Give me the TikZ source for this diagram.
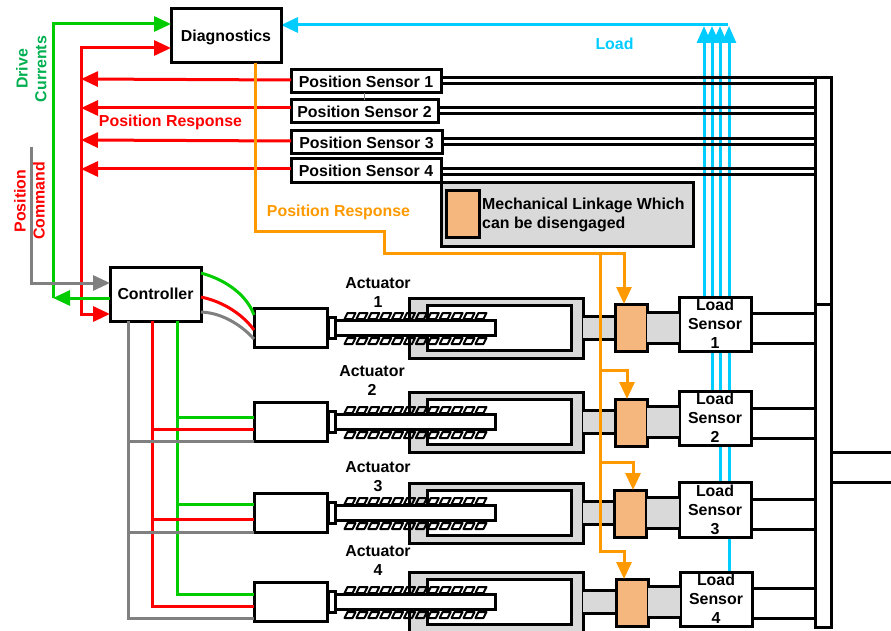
\documentclass[tikz,border=0pt]{standalone}
\usepackage{fontspec}
\setmainfont{Liberation Sans}
\usetikzlibrary{arrows.meta,backgrounds}
\definecolor{cgreen}{HTML}{00CC00}
\definecolor{tgreen}{HTML}{00B050}
\definecolor{cred}{HTML}{FF0000}
\definecolor{corange}{HTML}{FF9900}
\definecolor{ccyan}{HTML}{00CCFF}
\definecolor{cgray}{HTML}{808080}
\definecolor{pale}{HTML}{D9D9D9}
\definecolor{linkfill}{HTML}{F6B77F}
\tikzset{
  lab/.style={font=\fontsize{15.9}{19}\selectfont\bfseries, inner sep=0, align=center},
  box/.style={draw=black, line width=3, fill=white, inner sep=0, outer sep=0, lab},
  wire/.style={line width=3, line join=miter},
  blk/.style={draw=black, line width=3},
  tipped/.style={-{Triangle[length=17,width=15]}},
  gw/.style={wire, draw=cgreen},
  rw/.style={wire, draw=cred},
  yw/.style={wire, draw=corange},
  cw/.style={wire, draw=ccyan},
  kw/.style={wire, draw=cgray},
  linkbox/.style={draw=black, line width=3, fill=linkfill, inner sep=0, outer sep=0},
  coil/.style={draw=black, line width=2, line join=round},
}
\begin{document}
\begin{tikzpicture}[x=1pt,y=-1pt]
\useasboundingbox (0,0) rectangle (891,631);
\clip (0,0) rectangle (891,631);

% main boxes
\node[box, minimum width=110, minimum height=54, text depth=1pt] (diag) at (226,36) {Diagnostics};
\node[box, minimum width=91, minimum height=54] (ctrl) at (155.5,294) {Controller};
\node[box, minimum width=150, minimum height=23] (ps1) at (366,81.5) {Position Sensor 1};
\node[box, minimum width=147, minimum height=23] (ps2) at (364.5,111.5) {Position Sensor 2};
\node[box, minimum width=151, minimum height=23] (ps3) at (366.5,142.5) {Position Sensor 3};
\node[box, minimum width=150, minimum height=24] (ps4) at (366,171) {Position Sensor 4};
\draw[cgray, line width=0.8] (ps1.south -| 364,0) -- (ps2.north -| 364,0);

% load sensors
\node[box, minimum width=72, minimum height=54] (ls1) at (715,324) {};
\node[box, minimum width=72, minimum height=54] (ls2) at (715,418) {};
\node[box, minimum width=72, minimum height=55] (ls3) at (715,509.5) {};
\node[box, minimum width=72, minimum height=54] (ls4) at (716,599) {};
% load lines (behind boxes and black rails)
\coordinate (ltop) at (728,25);
\begin{scope}[on background layer]
\draw[cw, -{Triangle[length=17,width=14]}] (ls1.north -| 704,0) -- (704,26);
\draw[cw, -{Triangle[length=17,width=14]}] (ls2.north -| 712,0) -- (712,26);
\draw[cw, -{Triangle[length=17,width=14]}] (ls3.north -| 720,0) -- (720,26);
\draw[cw, -{Triangle[length=17,width=14]}] (ls4.north -| 729,0) -- (729,26);
\draw[cw, tipped] (ltop) -- (ltop -| diag.east);
\end{scope}

% bus
\node[box, minimum width=16, minimum height=226] (busa) at (823,191) {};
\node[box, minimum width=16, minimum height=323] (busb) at (823,465.5) {};
\foreach \s/\ya/\yb in {ps1/78/84, ps2/108/114, ps3/139/145, ps4/169/175}{
  \draw[blk] (\s.east |- 0,\ya) -- (busa.west |- 0,\ya);
  \draw[blk] (\s.east |- 0,\yb) -- (busa.west |- 0,\yb);
}
\coordinate (outa) at (891,452);
\coordinate (outb) at (891,482);
\draw[blk] (busb.east |- outa) -- (outa);
\draw[blk] (busb.east |- outb) -- (outb);

% legend
\node[draw=black, line width=3, fill=pale, minimum width=252, minimum height=63, inner sep=0, outer sep=0] (legend) at (567,214.5) {};
\node[linkbox, minimum width=33, minimum height=46] (legkey) at (462.5,214) {};
\node[lab, anchor=west, align=left] (legtxt) at (482,214.5) {Mechanical Linkage Which\\can be disengaged};

% actuators
\foreach \n/\b/\lkx/\lktop in {1/308/631/304, 2/402/631/399, 3/493/630.5/490, 4/582/632/579}{
  \draw[blk, fill=pale] (409,\b-10) rectangle (583,\b+50);
  \draw[blk, fill=white] (427,\b-3) rectangle (571,\b+42);
  % band to linkage
  \fill[pale] (583,\b+8) rectangle (615,\b+31);
  \draw[blk] (583,\b+8) -- (615,\b+8) (583,\b+31) -- (615,\b+31);
  % rod
  \draw[blk, fill=white] (335,\b+12) -- (495,\b+12) -- (495,\b+27.5) -- (335,\b+27.5);
  % coils
  \foreach \i in {0,...,11}{
    \pgfmathsetmacro{\cx}{344.5+\i*11.9}
    \draw[coil] (\cx,\b+11) -- (\cx+8,\b+11) -- (\cx+11,\b+5) -- (\cx+3,\b+5) -- cycle;
    \draw[coil] (\cx,\b+36) -- (\cx+8,\b+36) -- (\cx+11,\b+30) -- (\cx+3,\b+30) -- cycle;
  }
  \node[box, minimum width=73, minimum height=39] (mot\n) at (290.5,\b+19.5) {};
  \draw[blk, fill=white] (328,\b+9) rectangle (335,\b+30);
  \node[linkbox, minimum width=32, minimum height=47] (lk\n) at (\lkx,\lktop+23.5) {};
  % band linkage to sensor
  \fill[pale] (lk\n.east |- 0,\b+4) rectangle (ls\n.west |- 0,\b+35);
  \draw[blk] (lk\n.east |- 0,\b+4) -- (ls\n.west |- 0,\b+4) (lk\n.east |- 0,\b+35) -- (ls\n.west |- 0,\b+35);
}
% sensor outputs
\foreach \s/\ya/\yb in {ls1/313/343, ls2/408/438, ls3/499/529, ls4/588/618}{
  \draw[blk] (\s.east |- 0,\ya) -- (busb.west |- 0,\ya);
  \draw[blk] (\s.east |- 0,\yb) -- (busb.west |- 0,\yb);
}
% sensor labels
\foreach \s/\n in {ls1/1, ls2/2, ls3/3, ls4/4}{
  \node[lab] at (\s) {Load\\Sensor\\\n};
}
% actuator labels
\node[lab] (act1) at (378,292.5) {Actuator\\1};
\node[lab] (act2) at (372,380.5) {Actuator\\2};
\node[lab] (act3) at (378,476.5) {Actuator\\3};
\node[lab] (act4) at (378,560.5) {Actuator\\4};

% position response (red)
\coordinate (rsp) at (81,48);
\coordinate (rbot) at (81,314);
\draw[rw, tipped] (rbot) -- (rsp) -- (rsp -| diag.west);
\draw[rw, tipped] (rsp) -- (rbot) -- (rbot -| ctrl.west);
\foreach \s/\ya/\yb in {ps1/80/79, ps2/108/108, ps3/141/140, ps4/169/169}{
  \draw[rw, tipped] (\s.west |- 0,\ya) -- (rsp |- 0,\yb);
}
% drive currents (green)
\coordinate (gsp) at (53,298);
\draw[gw, tipped] (ctrl.west |- gsp) -- (gsp);
\draw[gw, tipped] (gsp) -- (53,24) -- (diag.west |- 0,24);
% position command (gray)
\coordinate (kt) at (31,147);
\coordinate (kb) at (31,283);
\draw[kw, tipped] (kt) -- (kb) -- (kb -| ctrl.west);

% orange
\coordinate (y1) at (255,231);
\coordinate (y2) at (384,231);
\coordinate (y3) at (384,253);
\coordinate (y4) at (600,253);
\coordinate (y5) at (600,551);
\draw[yw, tipped] (diag.south -| y1) -- (y1) -- (y2) -- (y3) -- (624,253) -- (lk1.north -| 624,0);
\draw[yw, tipped] (y4) -- (y5) -- (624,551) -- (lk4.north -| 624,0);
\draw[yw, tipped] (600,370) -- (627,370) -- (lk2.north -| 627,0);
\draw[yw, tipped] (600,462) -- (633,462) -- (lk3.north -| 633,0);

% controller to motors
\draw[kw] (128,0 |- ctrl.south) -- (128,618) -- (mot4.west |- 0,618);
\draw[rw] (152,0 |- ctrl.south) -- (152,606) -- (mot4.west |- 0,606);
\draw[gw] (177,0 |- ctrl.south) -- (177,594) -- (mot4.west |- 0,594);
\draw[kw] (128,441) -- (mot2.west |- 0,441);
\draw[rw] (152,429) -- (mot2.west |- 0,429);
\draw[gw] (177,417) -- (mot2.west |- 0,417);
\draw[kw] (128,532) -- (mot3.west |- 0,532);
\draw[rw] (152,519) -- (mot3.west |- 0,519);
\draw[gw] (177,504) -- (mot3.west |- 0,504);
\draw[gw] (ctrl.east |- 0,273) .. controls (230,281) and (248,298) .. (mot1.west |- 0,315);
\draw[rw] (ctrl.east |- 0,297) .. controls (225,302) and (244,316) .. (mot1.west |- 0,330);
\draw[kw] (ctrl.east |- 0,312) .. controls (225,313) and (244,328) .. (mot1.west |- 0,339);

% texts
\node[lab, text=tgreen, rotate=90] (t1) at (22,69) {Drive};
\node[lab, text=tgreen, rotate=90] (t2) at (41,69) {Currents};
\node[lab, text=cred, rotate=90] (t3) at (20,201) {Position};
\node[lab, text=cred, rotate=90] (t4) at (39,201) {Command};
\node[lab, text=cred] (t5) at (170.5,122) {Position Response};
\node[lab, text=corange] (t6) at (338.5,212) {Position Response};
\node[lab, text=ccyan] (t7) at (614.5,44) {Load};
\end{tikzpicture}
\end{document}
